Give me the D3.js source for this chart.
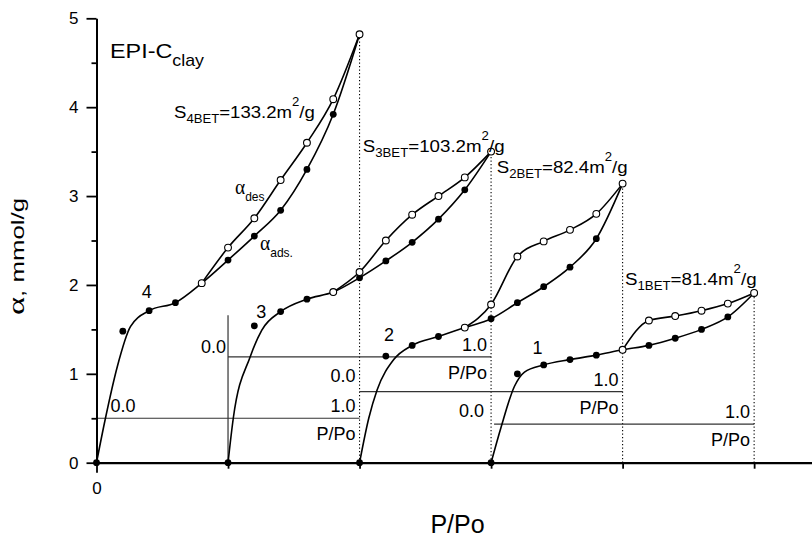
<!DOCTYPE html>
<html>
<head>
<meta charset="utf-8">
<script src="https://cdn.jsdelivr.net/npm/d3@7"></script>
<style>
body { margin: 0; background: #fff; }
svg { display: block; }
text { font-family: "Liberation Sans", Arial, sans-serif; fill: #000; }
</style>
</head>
<body>
<script>
// relative pressure grid used by every isotherm
var pressure = [0, 0.1, 0.2, 0.3, 0.4, 0.5, 0.6, 0.7, 0.8, 0.9, 1.0];

// adsorption branches (filled points), mmol/g
var ads4 = [0, 1.48, 1.71, 1.80, 2.02, 2.28, 2.55, 2.84, 3.30, 3.92, 4.82];
var ads3 = [0, 1.54, 1.70, 1.84, 1.92, 2.08, 2.27, 2.48, 2.74, 3.07, 3.50];
var ads2 = [0, 1.20, 1.32, 1.42, 1.52, 1.62, 1.80, 1.98, 2.20, 2.52, 3.14];
var ads1 = [0, 1.00, 1.10, 1.16, 1.21, 1.27, 1.32, 1.40, 1.50, 1.64, 1.91];

// desorption branches (open points)
var des4 = [null, null, null, null, 2.02, 2.42, 2.75, 3.18, 3.60, 4.09, 4.82];
var des3 = [null, null, null, null, 1.92, 2.145, 2.50, 2.79, 3.00, 3.21, 3.50];
var des2 = [null, null, null, null, 1.52, 1.78, 2.32, 2.49, 2.62, 2.80, 3.14];
var des1 = [null, null, null, null, null, 1.27, 1.60, 1.65, 1.71, 1.79, 1.91];

// fitted curve at the steep start (line passes under the 0.1 point)
var rise4P = [0.034, 0.079, 0.129], rise4A = [0.50, 1.08, 1.53];
var rise3P = [0.020, 0.084, 0.128], rise3A = [0.50, 1.19, 1.49];
var rise2P = [0.035, 0.067, 0.130], rise2A = [0.50, 0.82, 1.16];
var rise1P = [0.038, 0.089, 0.127], rise1A = [0.40, 0.86, 1.02];

var curveNames = ["4", "3", "2", "1"];
var curveOffset = [0, 1, 2, 3];
var betArea = ["133.2", "103.2", "82.4", "81.4"];
var subAxisLevel = [0.5, 1.19, 0.80, 0.435];

var yTicks = [0, 1, 2, 3, 4, 5];
var yMinor = [0.5, 1.5, 2.5, 3.5, 4.5];
var xTicks = [1, 2, 3, 4, 5];

var curves = [
  {ads: ads4, des: des4, riseP: rise4P, riseA: rise4A},
  {ads: ads3, des: des3, riseP: rise3P, riseA: rise3A},
  {ads: ads2, des: des2, riseP: rise2P, riseA: rise2A},
  {ads: ads1, des: des1, riseP: rise1P, riseA: rise1A}
];

var width = 812, height = 539;
var svg = d3.select("body").append("svg")
  .attr("width", width)
  .attr("height", height);

var x = d3.scaleLinear().domain([0, 5.44]).range([96.5, 812]);
var y = d3.scaleLinear().domain([0, 5]).range([462.7, 18.3]);

//==== inner P/Po axes ====
var zeroPos = [[14, -6, "start"], [-2, -4, "end"], [-4, -10, "end"], [-7, -7, "end"]];
curves.forEach(function(c, i) {
  var off = curveOffset[i];
  var X = function(p) { return x(off + 2 * p); };
  var ly = y(subAxisLevel[i]);
  svg.append("line")
    .attr("x1", i == 3 ? X(0) + 3 : X(0)).attr("x2", X(1))
    .attr("y1", ly).attr("y2", ly)
    .attr("stroke", "#333").attr("stroke-width", 1.2);
  svg.append("text").attr("x", X(0) + zeroPos[i][0]).attr("y", ly + zeroPos[i][1])
    .attr("text-anchor", zeroPos[i][2]).attr("font-size", 18).text("0.0");
  svg.append("text").attr("x", X(1) - 4).attr("y", ly - 6)
    .attr("text-anchor", "end").attr("font-size", 18).text("1.0");
  svg.append("text").attr("x", X(1) - 4).attr("y", ly + 22)
    .attr("text-anchor", "end").attr("font-size", 18).text("P/Po");
  // dotted end line
  svg.append("line")
    .attr("x1", X(1)).attr("x2", X(1))
    .attr("y1", y(0)).attr("y2", y(c.ads[10]))
    .attr("stroke", "#000").attr("stroke-width", 1.1)
    .attr("stroke-dasharray", "1.3,2.2");
});
// vertical frame of the 3rd inner axis
svg.append("line")
  .attr("x1", x(1)).attr("x2", x(1))
  .attr("y1", y(0)).attr("y2", y(1.66))
  .attr("stroke", "#333").attr("stroke-width", 1.2);

//==== axes ====
var yMin = svg.append("g").attr("transform", "translate(96.5,0)")
  .call(d3.axisLeft(y).tickValues(yMinor).tickSize(5).tickFormat(""));
yMin.select(".domain").remove();
yMin.selectAll("line").attr("stroke-width", 1.8);

var yAx = svg.append("g").attr("transform", "translate(96.5,0)")
  .call(d3.axisLeft(y).tickValues(yTicks).tickSize(10).tickPadding(8).tickSizeOuter(0).tickFormat(d3.format("d")));
yAx.select(".domain").attr("stroke-width", 2);
yAx.selectAll("line").attr("stroke-width", 1.8);
yAx.selectAll("text").attr("font-size", 17);

var xAx = svg.append("g").attr("transform", "translate(0," + y(0) + ")")
  .call(d3.axisBottom(x).tickValues(xTicks).tickSize(6).tickFormat("").tickSizeOuter(0));
xAx.select(".domain").attr("stroke-width", 2.2);
xAx.selectAll("line").attr("stroke-width", 1.8);

var x0 = svg.append("g").attr("transform", "translate(0," + y(0) + ")")
  .call(d3.axisBottom(x).tickValues([0]).tickSize(10).tickPadding(9).tickFormat(d3.format("d")));
x0.select(".domain").remove();
x0.selectAll("line").attr("stroke-width", 1.8);
x0.selectAll("text").attr("font-size", 17);

//==== isotherms ====
var line = d3.line()
  .x(function(d) { return x(d.off + 2 * d.p); })
  .y(function(d) { return y(d.a); })
  .curve(d3.curveMonotoneX);

curves.forEach(function(c, i) {
  var off = curveOffset[i];
  var adsPts = pressure.map(function(p, k) { return {off: off, p: p, a: c.ads[k]}; });
  var desPts = pressure.map(function(p, k) { return {off: off, p: p, a: c.des[k]}; })
    .filter(function(d) { return d.a != null; });
  var fit = [adsPts[0]]
    .concat(c.riseP.map(function(p, k) { return {off: off, p: p, a: c.riseA[k]}; }))
    .concat(adsPts.filter(function(d) { return d.p >= 0.15; }));

  svg.append("path").datum(fit)
    .attr("d", line).attr("fill", "none")
    .attr("stroke", "#000").attr("stroke-width", 1.6);
  svg.append("path").datum(desPts)
    .attr("d", line).attr("fill", "none")
    .attr("stroke", "#000").attr("stroke-width", 1.6);

  svg.append("g").selectAll("circle").data(adsPts).enter().append("circle")
    .attr("cx", line.x()).attr("cy", line.y())
    .attr("r", 3.4).attr("fill", "#000");
  svg.append("g").selectAll("circle").data(desPts).enter().append("circle")
    .attr("cx", line.x()).attr("cy", line.y())
    .attr("r", 3.4).attr("fill", "#fff")
    .attr("stroke", "#000").attr("stroke-width", 1.1);
});

//==== labels ====
function fitLabel(px, py, w, build, rot) {
  var g = svg.append("g").attr("transform", "translate(" + px + "," + py + ")" + (rot ? " rotate(-90)" : ""));
  var t = g.append("text");
  build(t);
  var bw = t.node().getBBox().width;
  t.attr("transform", "scale(" + (w / bw) + ",1)");
  return t;
}

var curveLabelPos = [[146.7, 298.3], [261.3, 318.3], [389, 341], [537.5, 354]];
curveNames.forEach(function(n, i) {
  svg.append("text")
    .attr("x", curveLabelPos[i][0]).attr("y", curveLabelPos[i][1])
    .attr("text-anchor", "middle").attr("font-size", 18).text(n);
});

var betPos = [[174, 118.3, 141], [362.7, 151.7, 142], [496.7, 173.3, 131], [625, 285, 131.7]];
curveNames.forEach(function(n, i) {
  fitLabel(betPos[i][0], betPos[i][1], betPos[i][2], function(t) {
    t.attr("font-size", 17);
    t.append("tspan").text("S");
    t.append("tspan").attr("font-size", 12).attr("dy", 5).text(n + "BET");
    t.append("tspan").attr("dy", -5).text("=" + betArea[i] + "m");
    t.append("tspan").attr("font-size", 12).attr("dy", -12).text("2");
    t.append("tspan").attr("dy", 12).text("/g");
  });
});

fitLabel(110, 58.3, 94, function(t) {
  t.attr("font-size", 21);
  t.append("tspan").text("EPI-C");
  t.append("tspan").attr("font-size", 16).attr("dy", 8).text("clay");
});

fitLabel(235, 194.3, 30, function(t) {
  t.append("tspan").attr("font-size", 21).style("font-family", "'Liberation Serif', serif").text("α");
  t.append("tspan").attr("font-size", 13).attr("dy", 7).text("des");
});
fitLabel(260, 250, 33, function(t) {
  t.append("tspan").attr("font-size", 21).style("font-family", "'Liberation Serif', serif").text("α");
  t.append("tspan").attr("font-size", 13).attr("dy", 7).text("ads.");
});

// y axis title
var yt = fitLabel(24, 256.5, 117, function(t) {
  t.attr("text-anchor", "middle").attr("font-size", 18);
  t.append("tspan").attr("font-size", 24).style("font-family", "'Liberation Serif', serif").text("α");
  t.append("tspan").text(", mmol/g");
}, true);
yt.attr("transform", yt.attr("transform"));

svg.append("text")
  .attr("x", 457.5).attr("y", 533)
  .attr("text-anchor", "middle").attr("font-size", 25).text("P/Po");
</script>
</body>
</html>
